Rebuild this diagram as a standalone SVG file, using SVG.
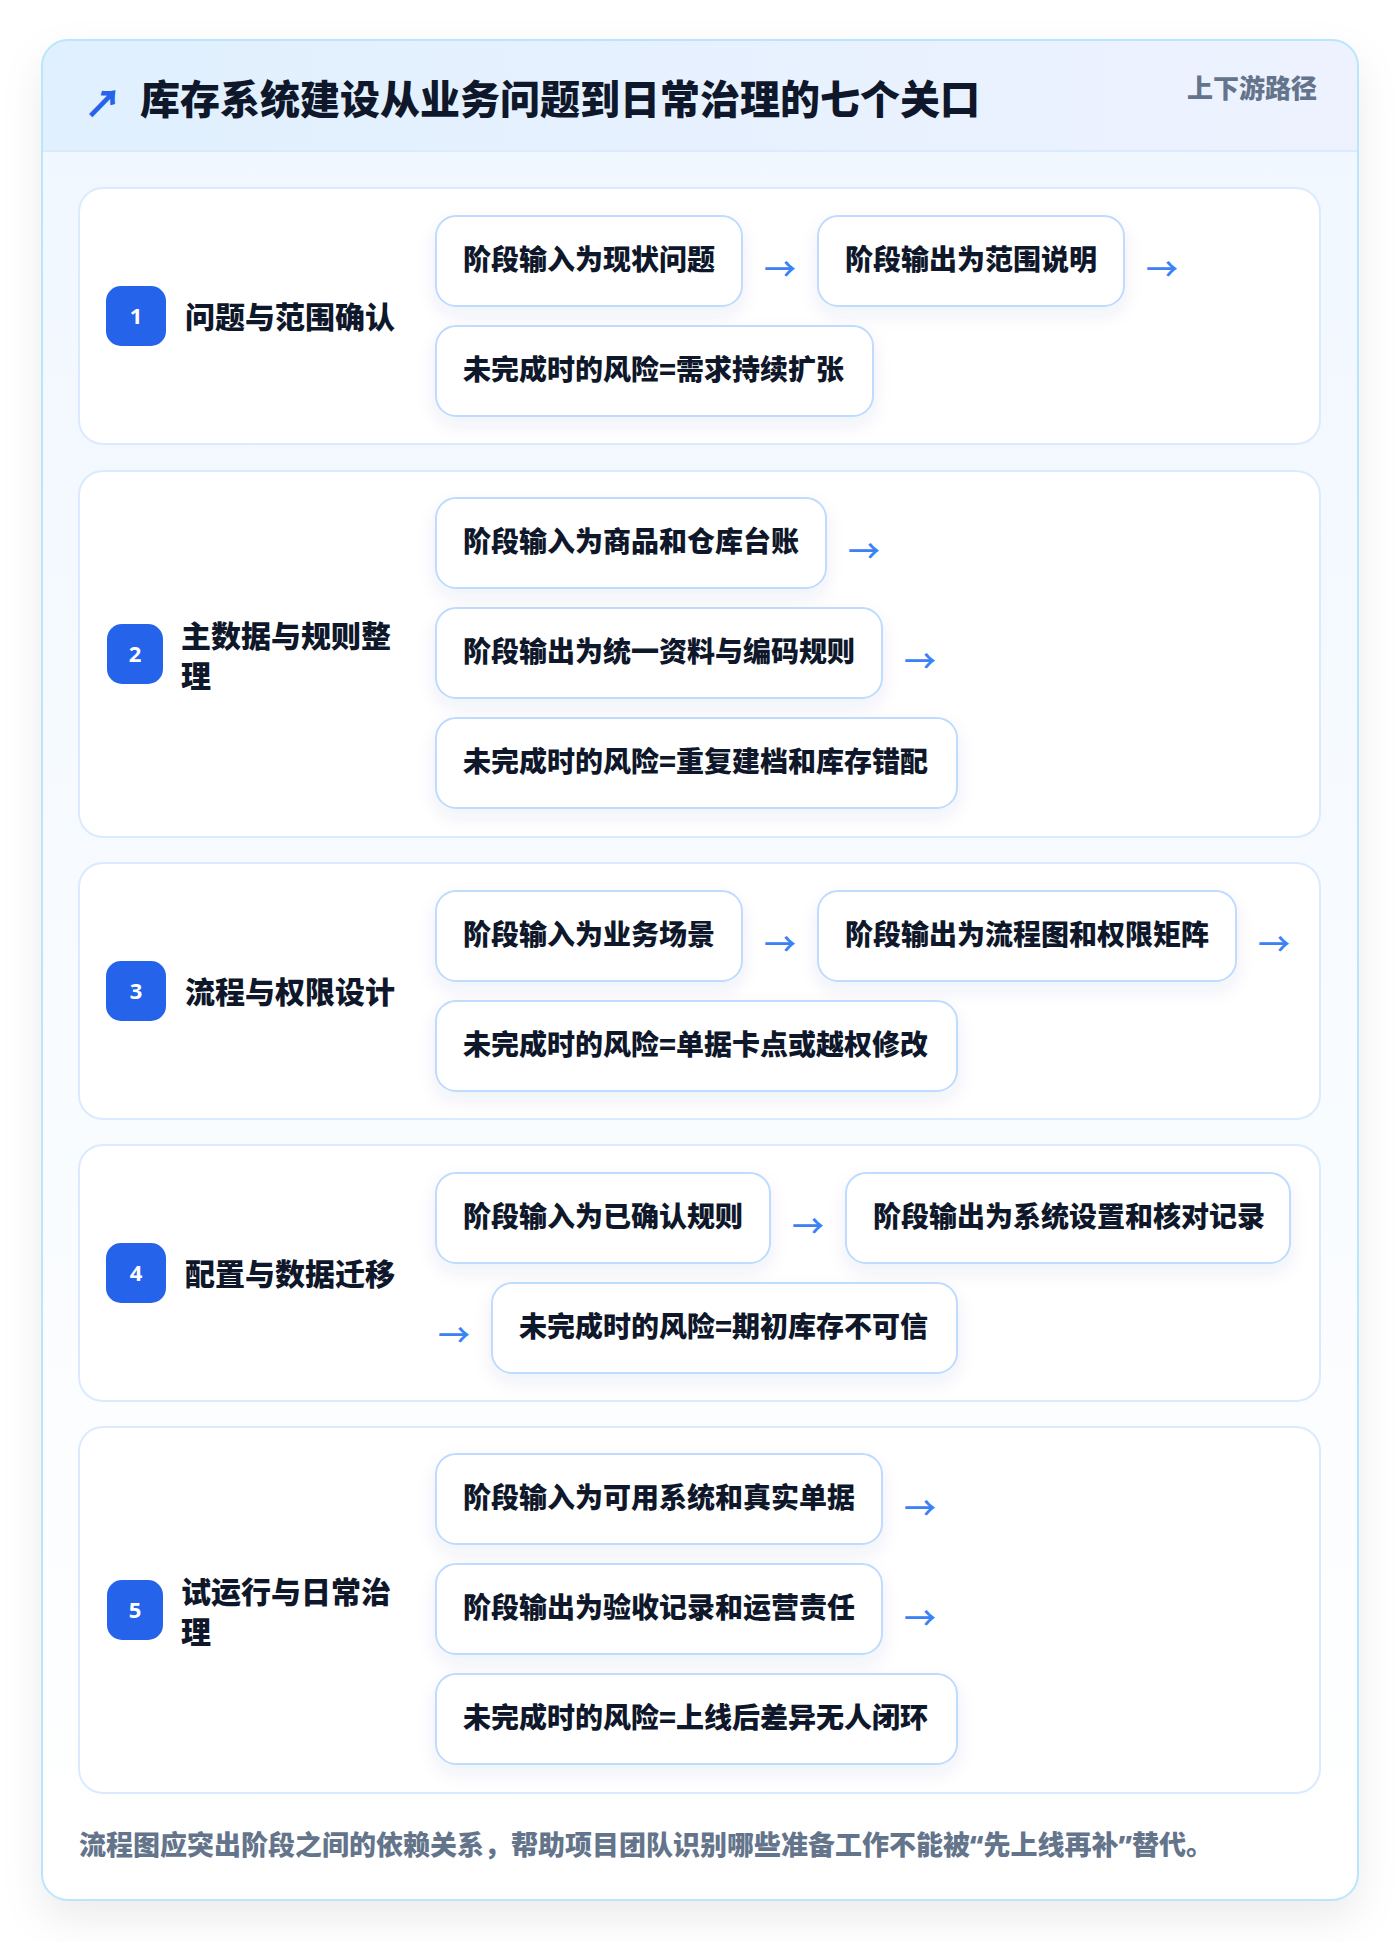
<svg xmlns="http://www.w3.org/2000/svg" width="1400" height="1942" viewBox="0 0 1400 1942">
<defs>
<style>
.t{font-family:"Noto Sans CJK SC","Noto Sans",sans-serif;font-weight:900}
.stg{fill:#ffffff;stroke:#dbeafe;stroke-width:2}
.box{fill:#ffffff;stroke:#bfdbfe;stroke-width:2}
.node{font-size:28px;fill:#0f172a}
.lbl{font-size:30px;fill:#0f172a}
.badge{fill:#2563eb}
.num{font-family:"Noto Sans","Liberation Sans",sans-serif;font-weight:700;font-size:22px;fill:#ffffff;text-anchor:middle}
.arr{font-family:"Noto Sans CJK SC",sans-serif;font-weight:500;font-size:32px;fill:#3b82f6}
.q{font-family:"Noto Sans","Liberation Sans",sans-serif}
</style>
<linearGradient id="hdr" x1="0" y1="0" x2="1" y2="0"><stop offset="0" stop-color="#e0f0fe"/><stop offset="1" stop-color="#eef2ff"/></linearGradient>
<linearGradient id="bodyg" x1="0" y1="0" x2="0" y2="1"><stop offset="0" stop-color="#f0f7ff"/><stop offset="1" stop-color="#ffffff"/></linearGradient>
<filter id="cardShadow" x="-10%" y="-10%" width="120%" height="120%"><feDropShadow dx="0" dy="18" stdDeviation="20" flood-color="#0f172a" flood-opacity="0.08"/></filter>
<filter id="boxShadow" x="-20%" y="-30%" width="140%" height="170%"><feDropShadow dx="0" dy="8" stdDeviation="9" flood-color="#1e3a8a" flood-opacity="0.07"/></filter>
<clipPath id="cardClip"><rect x="42" y="40" width="1316" height="1860" rx="26"/></clipPath>
</defs>
<rect x="0" y="0" width="1400" height="1942" fill="#ffffff"/>
<g id="card">
<rect x="42" y="40" width="1316" height="1860" rx="26" fill="url(#bodyg)" filter="url(#cardShadow)"/>
<g clip-path="url(#cardClip)">
<rect x="42" y="40" width="1316" height="111" fill="url(#hdr)"/>
<line x1="42" y1="151" x2="1358" y2="151" stroke="#dbeafe" stroke-width="2"/>
</g>
<rect x="42" y="40" width="1316" height="1860" rx="26" fill="none" stroke="#bae6fd" stroke-width="2"/>
</g>
<g id="header">
<text class="t" x="84" y="117" font-size="38" fill="#2563eb">↗</text>
<text class="t" x="140" y="114" font-size="40" fill="#0f172a">库存系统建设从业务问题到日常治理的七个关口</text>
<text class="t" x="1317" y="98" font-size="26" fill="#64748b" text-anchor="end">上下游路径</text>
</g>

<g id="stage1">
<rect class="stg" x="79" y="188" width="1241" height="256" rx="24"/>
<rect class="badge" x="106" y="286" width="60" height="60" rx="15"/>
<text class="num" x="136" y="324">1</text>
<text class="t lbl" x="185" y="328">问题与范围确认</text>
<g id="s1-in"><rect class="box" x="436" y="216" width="306" height="90" rx="20" filter="url(#boxShadow)"/><text class="t node" x="463" y="270">阶段输入为现状问题</text></g>
<g id="s1-out"><rect class="box" x="818" y="216" width="306" height="90" rx="20" filter="url(#boxShadow)"/><text class="t node" x="845" y="270">阶段输出为范围说明</text></g>
<g id="s1-risk"><rect class="box" x="436" y="326" width="437" height="90" rx="20" filter="url(#boxShadow)"/><text class="t node" x="463" y="380">未完成时的风险=需求持续扩张</text></g>
</g>

<g id="stage2">
<rect class="stg" x="79" y="471" width="1241" height="366" rx="24"/>
<rect class="badge" x="107" y="624" width="56" height="60" rx="15"/>
<text class="num" x="135" y="662">2</text>
<text class="t lbl" x="181" y="647">主数据与规则整</text>
<text class="t lbl" x="181" y="687">理</text>
<g id="s2-in"><rect class="box" x="436" y="498" width="390" height="90" rx="20" filter="url(#boxShadow)"/><text class="t node" x="463" y="552">阶段输入为商品和仓库台账</text></g>
<g id="s2-out"><rect class="box" x="436" y="608" width="446" height="90" rx="20" filter="url(#boxShadow)"/><text class="t node" x="463" y="662">阶段输出为统一资料与编码规则</text></g>
<g id="s2-risk"><rect class="box" x="436" y="718" width="521" height="90" rx="20" filter="url(#boxShadow)"/><text class="t node" x="463" y="772">未完成时的风险=重复建档和库存错配</text></g>
</g>

<g id="stage3">
<rect class="stg" x="79" y="863" width="1241" height="256" rx="24"/>
<rect class="badge" x="106" y="961" width="60" height="60" rx="15"/>
<text class="num" x="136" y="999">3</text>
<text class="t lbl" x="185" y="1003">流程与权限设计</text>
<g id="s3-in"><rect class="box" x="436" y="891" width="306" height="90" rx="20" filter="url(#boxShadow)"/><text class="t node" x="463" y="945">阶段输入为业务场景</text></g>
<g id="s3-out"><rect class="box" x="818" y="891" width="418" height="90" rx="20" filter="url(#boxShadow)"/><text class="t node" x="845" y="945">阶段输出为流程图和权限矩阵</text></g>
<g id="s3-risk"><rect class="box" x="436" y="1001" width="521" height="90" rx="20" filter="url(#boxShadow)"/><text class="t node" x="463" y="1055">未完成时的风险=单据卡点或越权修改</text></g>
</g>

<g id="stage4">
<rect class="stg" x="79" y="1145" width="1241" height="256" rx="24"/>
<rect class="badge" x="106" y="1243" width="60" height="60" rx="15"/>
<text class="num" x="136" y="1281">4</text>
<text class="t lbl" x="185" y="1285">配置与数据迁移</text>
<g id="s4-in"><rect class="box" x="436" y="1173" width="334" height="90" rx="20" filter="url(#boxShadow)"/><text class="t node" x="463" y="1227">阶段输入为已确认规则</text></g>
<g id="s4-out"><rect class="box" x="846" y="1173" width="444" height="90" rx="20" filter="url(#boxShadow)"/><text class="t node" x="873" y="1227">阶段输出为系统设置和核对记录</text></g>
<g id="s4-risk"><rect class="box" x="492" y="1283" width="465" height="90" rx="20" filter="url(#boxShadow)"/><text class="t node" x="519" y="1337">未完成时的风险=期初库存不可信</text></g>
</g>

<g id="stage5">
<rect class="stg" x="79" y="1427" width="1241" height="366" rx="24"/>
<rect class="badge" x="107" y="1580" width="56" height="60" rx="15"/>
<text class="num" x="135" y="1618">5</text>
<text class="t lbl" x="181" y="1603">试运行与日常治</text>
<text class="t lbl" x="181" y="1643">理</text>
<g id="s5-in"><rect class="box" x="436" y="1454" width="446" height="90" rx="20" filter="url(#boxShadow)"/><text class="t node" x="463" y="1508">阶段输入为可用系统和真实单据</text></g>
<g id="s5-out"><rect class="box" x="436" y="1564" width="446" height="90" rx="20" filter="url(#boxShadow)"/><text class="t node" x="463" y="1618">阶段输出为验收记录和运营责任</text></g>
<g id="s5-risk"><rect class="box" x="436" y="1674" width="521" height="90" rx="20" filter="url(#boxShadow)"/><text class="t node" x="463" y="1728">未完成时的风险=上线后差异无人闭环</text></g>
</g>

<g id="connectors">
<text class="arr" x="764" y="281">→</text>
<text class="arr" x="1146" y="281">→</text>
<text class="arr" x="848" y="563">→</text>
<text class="arr" x="904" y="673">→</text>
<text class="arr" x="764" y="956">→</text>
<text class="arr" x="1258" y="956">→</text>
<text class="arr" x="792" y="1238">→</text>
<text class="arr" x="438" y="1347">→</text>
<text class="arr" x="904" y="1520">→</text>
<text class="arr" x="904" y="1630">→</text>
</g>

<g id="footer">
<text class="t" x="79" y="1855" font-size="27" fill="#64748b">流程图应突出阶段之间的依赖关系，帮助项目团队识别哪些准备工作不能被<tspan class="q">“</tspan>先上线再补<tspan class="q">”</tspan>替代。</text>
</g>
</svg>
